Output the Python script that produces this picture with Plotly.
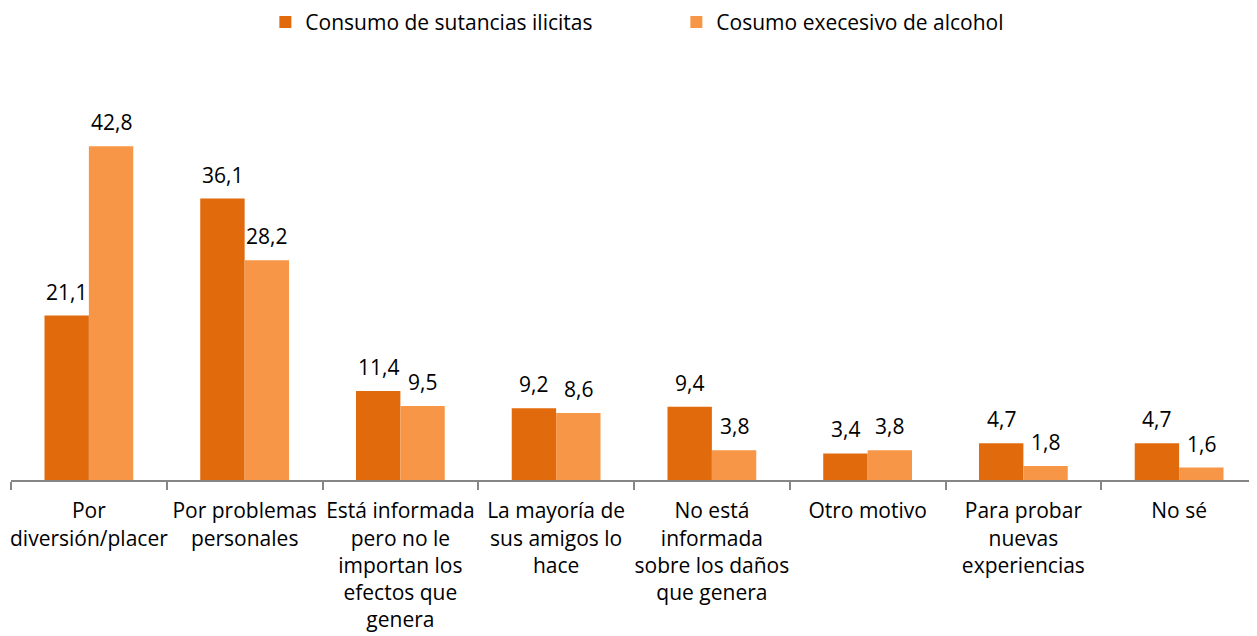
import plotly.graph_objects as go

categories = [
    "Por<br>diversión/placer",
    "Por problemas<br>personales",
    "Está informada<br>pero no le<br>importan los<br>efectos que<br>genera",
    "La mayoría de<br>sus amigos lo<br>hace",
    "No está<br>informada<br>sobre los daños<br>que genera",
    "Otro motivo",
    "Para probar<br>nuevas<br>experiencias",
    "No sé",
]
ilicitas = [21.1, 36.1, 11.4, 9.2, 9.4, 3.4, 4.7, 4.7]
alcohol = [42.8, 28.2, 9.5, 8.6, 3.8, 3.8, 1.8, 1.6]

FONT = "Open Sans, sans-serif"
DARK = "#E06A0C"
LIGHT = "#F79646"

fig = go.Figure()
fig.add_trace(go.Bar(x=categories, y=ilicitas, name="Consumo de sutancias ilicitas",
                     marker=dict(color=DARK, line=dict(width=0))))
fig.add_trace(go.Bar(x=categories, y=alcohol, name="Cosumo execesivo de alcohol",
                     marker=dict(color=LIGHT, line=dict(width=0))))

# data labels as annotations so the gap above the bars can be set
half_bar = 22.2
for vals, shift in [(ilicitas, -half_bar), (alcohol, half_bar)]:
    for cat, v in zip(categories, vals):
        fig.add_annotation(
            x=cat, y=v, text=f"{v:.1f}".replace(".", ","), showarrow=False,
            xshift=shift, yshift=8, yanchor="bottom",
            font=dict(size=21, color="black", family=FONT),
        )

fig.update_layout(
    width=1249, height=628,
    barmode="group", bargap=0.43, bargroupgap=0,
    plot_bgcolor="white", paper_bgcolor="white",
    font=dict(family=FONT, size=21, color="black"),
    margin=dict(l=3, r=0, t=51, b=156, autoexpand=False),
    legend=dict(
        orientation="h", xanchor="center", x=0.534, yref="container", y=0.977,
        yanchor="middle", font=dict(size=21), entrywidth=366, entrywidthmode="pixels",
    ),
    xaxis=dict(
        showline=True, linecolor="#868686", linewidth=2,
        ticks="outside", tickson="boundaries", ticklen=8, tickcolor="#868686",
        tickwidth=2, tickangle=0, tickfont=dict(size=21), ticklabelstandoff=11,
    ),
    yaxis=dict(visible=False, range=[0, 54]),
)

fig.write_html("out.html")
